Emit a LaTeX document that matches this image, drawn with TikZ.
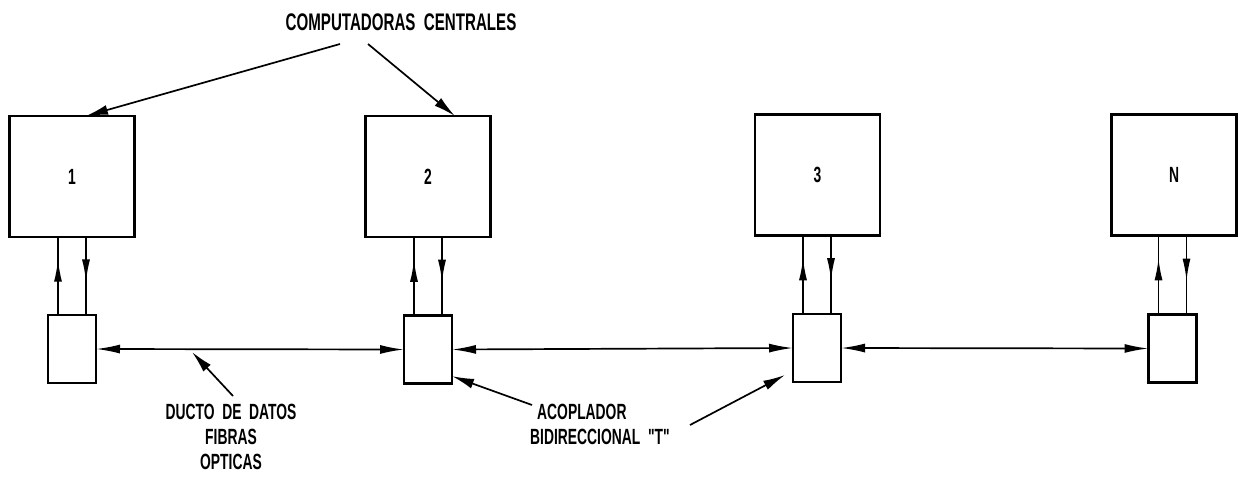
\documentclass[tikz,border=0pt]{standalone}
\usepackage{fontspec}
\newfontfamily\cad[FakeStretch=0.63,WordSpace=2]{Liberation Sans}
\usetikzlibrary{arrows.meta,decorations.markings}
\tikzset{
  bigbox/.style={draw,line width=2.2pt,minimum width=125pt,minimum height=121pt,inner sep=0pt,outer sep=0pt,font=\cad\bfseries\fontsize{22}{22}\selectfont},
  smallbox/.style={draw,line width=2.2pt,minimum width=48pt,minimum height=68pt,inner sep=0pt,outer sep=0pt},
  bus/.style={line width=1.7pt,{Latex[length=24pt,width=9pt]}-{Latex[length=24pt,width=9pt]}},
  lbl/.style={inner sep=0pt,font=\cad\bfseries\fontsize{22}{25}\selectfont},
  toplbl/.style={inner sep=0pt,font=\cad\bfseries\fontsize{24}{25}\selectfont},
  pointer/.style={line width=1.7pt,-{Latex[length=22pt,width=10pt]}},
  upflow/.style={line width=1.6pt,postaction={decorate},decoration={markings,mark=at position 0.71 with {\arrow{Latex[length=22pt,width=8pt]}}}},
  downflow/.style={line width=1.6pt,postaction={decorate},decoration={markings,mark=at position 0.57 with {\arrow{Latex[length=22pt,width=8pt]}}}}
}
\begin{document}
\begin{tikzpicture}[x=1pt,y=-1pt]
\useasboundingbox (0,0) rectangle (1241,479);
% central computers
\node[bigbox] (b1) at (72,176.5) {1};
\node[bigbox] (b2) at (428,176.5) {2};
\node[bigbox] (b3) at (817.5,175) {3};
\node[bigbox] (bN) at (1174,175) {N};
% couplers
\node[smallbox] (s1) at (72,349) {};
\node[smallbox] (s2) at (428,349.5) {};
\node[smallbox] (s3) at (817,348) {};
\node[smallbox] (sN) at (1172.5,348.5) {};
% vertical links
\foreach \n in {1,2,3,N}{
  \draw[upflow] ([xshift=-14pt]s\n.north) -- ([xshift=-14pt]s\n.north |- b\n.south);
  \draw[downflow] ([xshift=14pt]s\n.north |- b\n.south) -- ([xshift=14pt]s\n.north);
}
% data bus
\draw[bus] (s1.east) -- (s2.west);
\draw[bus] (s2.east) -- (s3.west);
\draw[bus] (s3.east) -- (sN.west);
% labels
\node[toplbl] (lc) at (401,22) {COMPUTADORAS CENTRALES};
\coordinate (c1) at (340,44);
\coordinate (c2) at (368,44);
\draw[pointer] (c1) -- (b1.77);
\draw[pointer] (c2) -- (b2.66);

\node[lbl,align=center] (ld) at (231,437) {DUCTO DE DATOS\\FIBRAS\\OPTICAS};
\coordinate (d1) at (233,396);
\coordinate (d2) at (192,352);
\draw[pointer] (d1) -- (d2);

\node[lbl,anchor=west] (la1) at (537,412) {ACOPLADOR};
\node[lbl,anchor=west] (la2) at (530,437) {BIDIRECCIONAL "T"};
\coordinate (a1) at (532,405);
\coordinate (a2) at (690,425);
\coordinate (a3) at (785,375);
\draw[pointer] (a1) -- (s2.-48);
\draw[pointer] (a2) -- (a3);
\end{tikzpicture}
\end{document}
